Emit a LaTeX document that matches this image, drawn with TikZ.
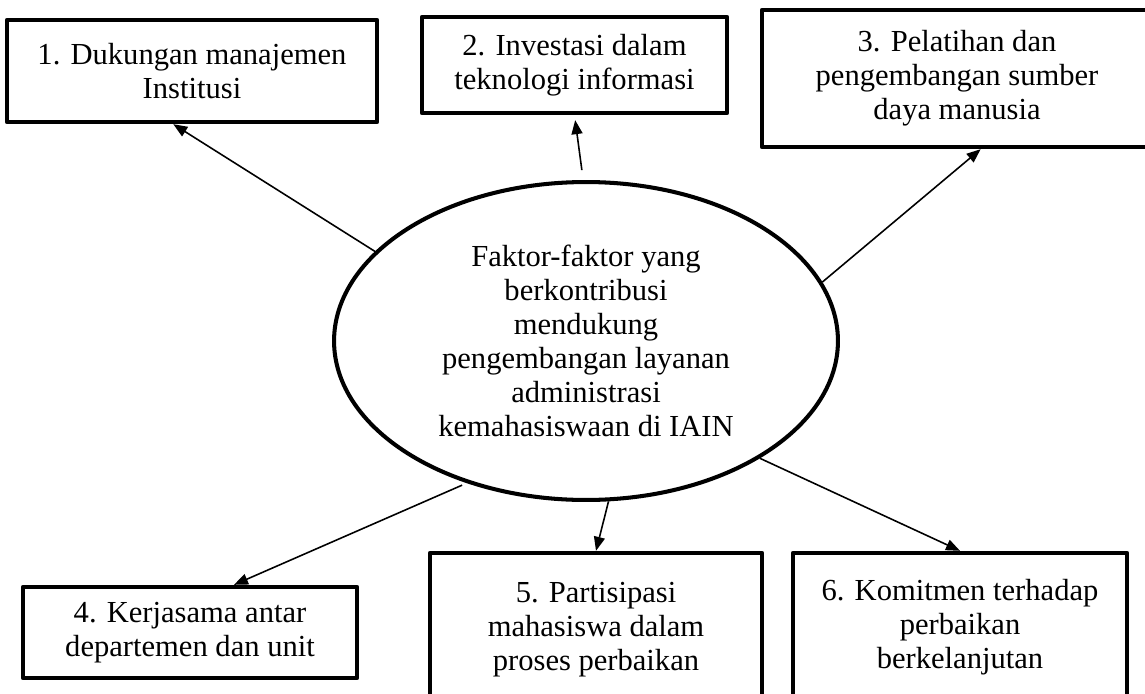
\documentclass[tikz,border=0pt]{standalone}
\usepackage{fontspec}
\setmainfont{Liberation Serif}
\usetikzlibrary{shapes.geometric,arrows.meta,calc}
\begin{document}
\begin{tikzpicture}[
    x=0.02cm, y=-0.02cm,
    box/.style={draw, line width=2.5pt, line join=round, align=center, inner sep=0pt,
        font=\fontsize{17.4}{19.4}\selectfont},
    hub/.style={draw, ellipse, line width=2.3pt, align=center, inner sep=0pt,
        minimum width=10.08cm, minimum height=6.36cm, font=\fontsize{17.4}{19.4}\selectfont},
    >={Triangle[length=0.28cm,width=0.22cm]}
]
\useasboundingbox (0,0) rectangle (1145,693);
\clip (0,0) rectangle (1145,693);
\node[hub] (ell) at (586,341) {Faktor-faktor yang\\ berkontribusi\\ mendukung\\ pengembangan layanan\\ administrasi\\ kemahasiswaan di IAIN};
\node[box, minimum width=7.4cm, minimum height=2.04cm] (b1) at (192,71) {1. Dukungan manajemen\\ Institusi};
\node[box, minimum width=6.1cm, minimum height=1.92cm] (b2) at (574.5,65) {2. Investasi dalam\\ teknologi informasi};
\node[box, minimum width=7.8cm, minimum height=2.74cm] (b3) at (957,78.5) {3. Pelatihan dan\\ pengembangan sumber\\ daya manusia};
\node[box, minimum width=6.68cm, minimum height=1.82cm] (b4) at (190,632.5) {4. Kerjasama antar\\ departemen dan unit};
\node[box, minimum width=6.64cm, minimum height=3.08cm] (b5) at (596,630) {5. Partisipasi\\ mahasiswa dalam\\ proses perbaikan};
\node[box, minimum width=6.68cm, minimum height=2.96cm] (b6) at (960,627) {6. Komitmen terhadap\\ perbaikan\\ berkelanjutan};
\draw[->, line width=0.9pt] (ell.157) -- ($(b1.south west)!0.45!(b1.south east)$);
\draw[->, line width=0.9pt, shorten <=0.2cm, shorten >=0.1cm] (ell.91) -- (b2.south);
\draw[->, line width=0.9pt] (ell.14) -- ($(b3.south west)!0.56!(b3.south east)$);
\draw[->, line width=0.9pt, shorten <=0.1cm] (ell.230) -- ($(b4.north west)!0.63!(b4.north east)$);
\draw[->, line width=0.9pt] (ell.278) -- (b5.north);
\draw[->, line width=0.9pt] (ell.326) -- (b6.north);
\end{tikzpicture}
\end{document}
